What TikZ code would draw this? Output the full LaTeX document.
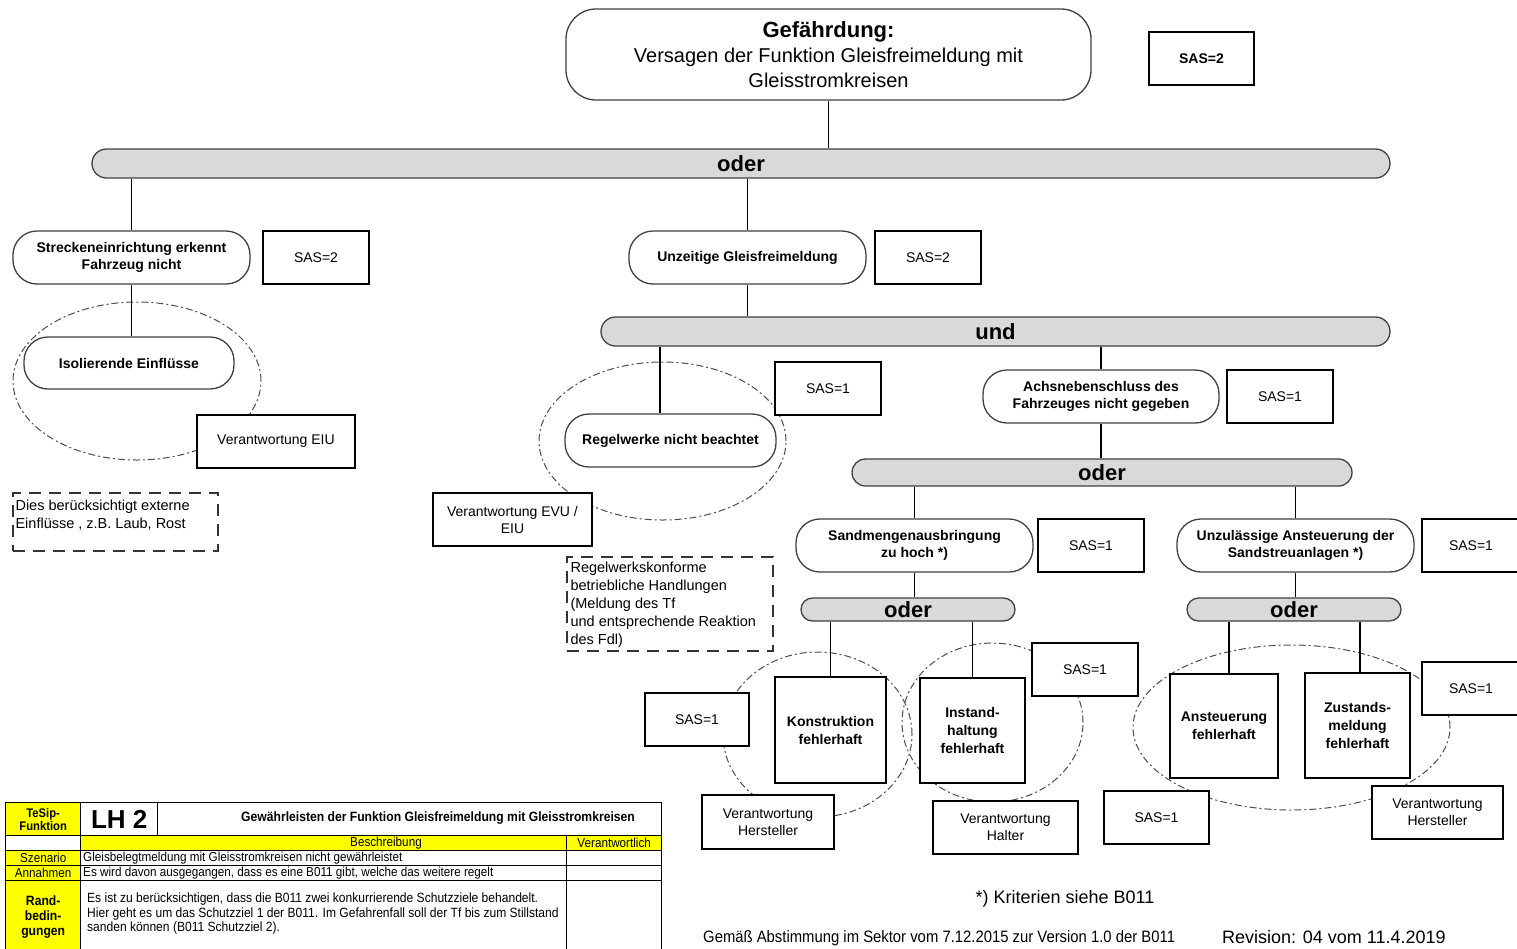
\documentclass[tikz,border=0pt]{standalone}
\usepackage{fontspec}
\setmainfont{Liberation Sans}
\newfontfamily\narrowfont[FakeStretch=0.9]{Liberation Sans}
\usetikzlibrary{shapes.geometric}
\definecolor{barfill}{HTML}{D9D9D9}
\definecolor{tabyellow}{HTML}{FFFF00}
\begin{document}
\begin{tikzpicture}[x=1pt,y=-1pt,
  every node/.style={inner sep=0pt, align=center},
  rnode/.style={draw=black!75, line width=1.3pt, fill=white, rounded corners=24pt,
    font=\fontsize{14}{17}\selectfont\bfseries},
  sasbox/.style={draw=black, line width=2pt, fill=white, minimum width=106pt, minimum height=53pt,
    font=\fontsize{14}{17}\selectfont},
  sqbox/.style={draw=black, line width=2pt, fill=white, font=\fontsize{14}{18}\selectfont\bfseries},
  verbox/.style={draw=black, line width=2pt, fill=white, font=\fontsize{14}{17}\selectfont},
  gate/.style={draw=black!75, line width=1.3pt, fill=barfill, font=\fontsize{22}{24}\selectfont\bfseries},
  conn/.style={line width=1.8pt},
  scopeell/.style={ellipse, draw=black!70, line width=1pt, dash pattern=on 7pt off 3pt on 2pt off 3pt},
  notebox/.style={draw=black!80, line width=1.3pt, dash pattern=on 12pt off 8pt},
  notetext/.style={anchor=north west, align=left, font=\fontsize{14.5}{18}\selectfont},
  cell/.style={draw=black, line width=1.4pt, anchor=north west},
  celltext/.style={font=\narrowfont\fontsize{13}{14}\selectfont},
]
\useasboundingbox (0,0) rectangle (1517,948);

% ---------- dashed scopes of responsibility ----------
\node[scopeell, minimum width=248pt, minimum height=158pt] (e1) at (137,381) {};
\node[scopeell, minimum width=247pt, minimum height=158pt] (e2) at (662.5,441) {};
\node[scopeell, minimum width=189pt, minimum height=165pt] (e3) at (817.5,734.5) {};
\node[scopeell, minimum width=181pt, minimum height=159pt] (e4) at (992.5,722.5) {};
\node[scopeell, minimum width=317pt, minimum height=165pt] (e5) at (1291.5,727.5) {};

% ---------- top event ----------
\node[draw=black!75, line width=1.3pt, fill=white, rounded corners=30pt,
  minimum width=525pt, minimum height=91pt, font=\fontsize{20}{25}\selectfont] (gef) at (828.5,54.5)
  {{\fontsize{22}{25}\selectfont\bfseries Gefährdung:}\\Versagen der Funktion Gleisfreimeldung mit\\Gleisstromkreisen};
\node[sasbox, minimum width=105pt, font=\fontsize{14}{17}\selectfont\bfseries] (sasg) at (1201.5,58.5) {SAS=2};

\node[gate, rounded corners=14.5pt, minimum width=1298pt, minimum height=29pt] (oder1) at (741,163.5) {oder};

% ---------- left branch ----------
\node[rnode, minimum width=237pt, minimum height=53pt] (streck) at (131.5,257.5)
  {Streckeneinrichtung erkennt\\Fahrzeug nicht};
\node[sasbox] (sass) at (316,257.5) {SAS=2};
\node[rnode, minimum width=210pt, minimum height=52pt] (iso) at (129,363) {Isolierende Einflüsse};
\node[verbox, minimum width=158pt, minimum height=53pt] (veit) at (276,441.5) {Verantwortung EIU};
\node[notebox, minimum width=205pt, minimum height=58pt] (note1) at (115.5,522) {};
\node[notetext] (note1t) at ([xshift=3pt,yshift=-7pt]note1.north west)
  {Dies berücksichtigt externe\\Einflüsse , z.B. Laub, Rost};

% ---------- middle branch ----------
\node[rnode, minimum width=237pt, minimum height=53pt] (unz) at (747.5,257.5) {Unzeitige Gleisfreimeldung};
\node[sasbox] (sasu) at (928,257.5) {SAS=2};
\node[gate, rounded corners=14.5pt, minimum width=789pt, minimum height=29pt] (und) at (995.5,331.5) {und};

\node[rnode, minimum width=211pt, minimum height=53pt] (regel) at (670.5,440.5) {Regelwerke nicht beachtet};
\node[sasbox] (sasr) at (828,388.5) {SAS=1};
\node[verbox, minimum width=159pt, minimum height=53pt] (vevu) at (512.5,519.5) {Verantwortung EVU /\\EIU};
\node[notebox, minimum width=206pt, minimum height=94pt] (note2) at (670,604) {};
\node[notetext] (note2t) at ([xshift=4pt,yshift=-5pt]note2.north west)
  {Regelwerkskonforme\\betriebliche Handlungen\\(Meldung des Tf\\und entsprechende Reaktion\\des Fdl)};

\node[rnode, minimum width=236pt, minimum height=53pt] (achs) at (1101,396.5)
  {Achsnebenschluss des\\Fahrzeuges nicht gegeben};
\node[sasbox] (sasa) at (1280,396.5) {SAS=1};
\node[gate, rounded corners=13.5pt, minimum width=500pt, minimum height=27pt] (oder2) at (1102,472.5) {oder};

\node[rnode, minimum width=237pt, minimum height=53pt] (sand) at (914.5,545.5)
  {Sandmengenausbringung\\zu hoch *)};
\node[sasbox] (sassd) at (1091,545.5) {SAS=1};
\node[rnode, minimum width=237pt, minimum height=53pt] (unzul) at (1295.5,545.5)
  {Unzulässige Ansteuerung der\\Sandstreuanlagen *)};
\node[sasbox, minimum width=98pt] (sasuz) at (1471,545.5) {SAS=1};

\node[gate, rounded corners=11.5pt, minimum width=214pt, minimum height=23pt] (oder3) at (908,609.5) {oder};
\node[gate, rounded corners=11.5pt, minimum width=214pt, minimum height=23pt] (oder4) at (1294,609.5) {oder};

% ---------- basic events ----------
\node[sqbox, minimum width=111pt, minimum height=106pt] (konst) at (830.5,730) {Konstruktion\\fehlerhaft};
\node[sqbox, minimum width=105pt, minimum height=105pt] (instand) at (972.5,730.5) {Instand-\\haltung\\fehlerhaft};
\node[sasbox, minimum width=104pt] (sask) at (697,719.5) {SAS=1};
\node[sasbox] (sasi) at (1085,669.5) {SAS=1};
\node[verbox, minimum width=132pt, minimum height=54pt] (vher1) at (768,822) {Verantwortung\\Hersteller};
\node[verbox, minimum width=145pt, minimum height=53pt] (vhal) at (1005.5,827.5) {Verantwortung\\Halter};

\node[sqbox, minimum width=108pt, minimum height=104pt] (anst) at (1224,726) {Ansteuerung\\fehlerhaft};
\node[sqbox, minimum width=105pt, minimum height=105pt] (zust) at (1357.5,725.5) {Zustands-\\meldung\\fehlerhaft};
\node[sasbox, minimum width=98pt] (sasz) at (1471,688.5) {SAS=1};
\node[sasbox, minimum width=105pt] (sasan) at (1156.5,817.5) {SAS=1};
\node[verbox, minimum width=131pt, minimum height=53pt] (vher2) at (1437.5,812.5) {Verantwortung\\Hersteller};

% ---------- connectors ----------
\coordinate (x660) at (660,0);
\coordinate (x1229) at (1229,0);
\coordinate (x1360) at (1360,0);
\draw[conn] (gef.south) -- (oder1.north -| gef);
\draw[conn] (oder1.south -| streck) -- (streck.north);
\draw[conn] (oder1.south -| unz) -- (unz.north);
\draw[conn] (streck.south) -- (streck.south |- iso.north);
\draw[conn] (unz.south) -- (und.north -| unz);
\draw[conn] (und.south -| x660) -- (regel.north -| x660);
\draw[conn] (und.south -| achs) -- (achs.north);
\draw[conn] (achs.south) -- (oder2.north -| achs);
\draw[conn] (oder2.south -| sand) -- (sand.north);
\draw[conn] (oder2.south -| unzul) -- (unzul.north);
\draw[conn] (sand.south) -- (oder3.north -| sand);
\draw[conn] (unzul.south) -- (oder4.north -| unzul);
\draw[conn] (oder3.south -| konst) -- (konst.north);
\draw[conn] (oder3.south -| instand) -- (instand.north);
\draw[conn] (oder4.south -| x1229) -- (anst.north -| x1229);
\draw[conn] (oder4.south -| x1360) -- (zust.north -| x1360);

% ---------- footer texts ----------
\node[font=\fontsize{18}{20}\selectfont] (krit) at (1065,899) {*) Kriterien siehe B011};
\node[anchor=west, font=\narrowfont\fontsize{16.5}{18}\selectfont] (gemaess) at (703,938)
  {Gemäß Abstimmung im Sektor vom 7.12.2015 zur Version 1.0 der B011};
\node[anchor=west, font=\fontsize{18}{20}\selectfont] (rev) at (1222,937) {Revision: 04 vom 11.4.2019};

% ---------- function sheet ----------
\node[cell, fill=tabyellow, minimum width=75pt, minimum height=33pt] (t11) at (5,802) {};
\node[cell, minimum width=77pt, minimum height=33pt] (t12) at (80,802) {};
\node[cell, minimum width=504pt, minimum height=33pt] (t13) at (157,802) {};
\node[cell, minimum width=75pt, minimum height=15pt] (t21) at (5,835) {};
\node[cell, fill=tabyellow, minimum width=486pt, minimum height=15pt] (t22) at (80,835) {};
\node[cell, fill=tabyellow, minimum width=95pt, minimum height=15pt] (t23) at (566,835) {};
\node[cell, fill=tabyellow, minimum width=75pt, minimum height=15pt] (t31) at (5,850) {};
\node[cell, minimum width=486pt, minimum height=15pt] (t32) at (80,850) {};
\node[cell, minimum width=95pt, minimum height=15pt] (t33) at (566,850) {};
\node[cell, fill=tabyellow, minimum width=75pt, minimum height=15pt] (t41) at (5,865) {};
\node[cell, minimum width=486pt, minimum height=15pt] (t42) at (80,865) {};
\node[cell, minimum width=95pt, minimum height=15pt] (t43) at (566,865) {};
\node[cell, fill=tabyellow, minimum width=75pt, minimum height=72pt] (t51) at (5,880) {};
\node[cell, minimum width=486pt, minimum height=72pt] (t52) at (80,880) {};
\node[cell, minimum width=95pt, minimum height=72pt] (t53) at (566,880) {};

\node[celltext, font=\narrowfont\fontsize{12.5}{13}\selectfont\bfseries] at (t11.center) {TeSip-\\Funktion};
\node[font=\fontsize{26}{28}\selectfont\bfseries] at (t12.center) {LH 2};
\node[celltext, font=\narrowfont\fontsize{13.5}{14}\selectfont\bfseries] at (438,818.5)
  {Gewährleisten der Funktion Gleisfreimeldung mit Gleisstromkreisen};
\node[celltext] at (386,843) {Beschreibung};
\node[celltext] at (t23.center) {Verantwortlich};
\node[celltext] at (t31.center) {Szenario};
\node[celltext, anchor=west] at ([xshift=3pt]t32.west) {Gleisbelegtmeldung mit Gleisstromkreisen nicht gewährleistet};
\node[celltext] at (t41.center) {Annahmen};
\node[celltext, anchor=west] at ([xshift=3pt]t42.west) {Es wird davon ausgegangen, dass es eine B011 gibt, welche das weitere regelt};
\node[celltext, font=\narrowfont\fontsize{13.5}{15}\selectfont\bfseries] at (t51.center) {Rand-\\bedin-\\gungen};
\node[celltext, anchor=north west, align=left, font=\narrowfont\fontsize{13.4}{14.5}\selectfont] at (87,893)
  {Es ist zu berücksichtigen, dass die B011 zwei konkurrierende Schutzziele behandelt.\\
   Hier geht es um das Schutzziel 1 der B011. Im Gefahrenfall soll der Tf bis zum Stillstand\\
   sanden können (B011 Schutzziel 2).};
\end{tikzpicture}
\end{document}
